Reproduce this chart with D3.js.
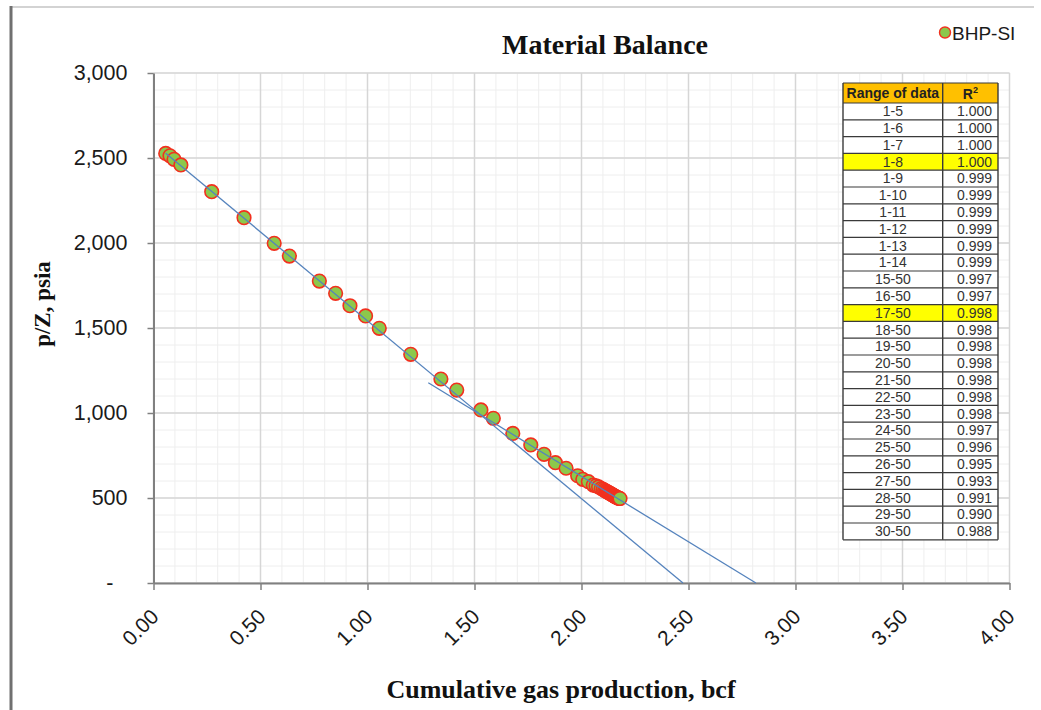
<!DOCTYPE html>
<html>
<head>
<meta charset="utf-8">
<script src="https://cdn.jsdelivr.net/npm/d3@7"></script>
<style>
  body { margin: 0; background: #fff; }
  svg { display: block; }
</style>
</head>
<body>
<svg id="chart" width="1041" height="710"></svg>
<script>
// Cumulative gas production (bcf) and p/Z (psia) for each survey point
const cumGas = [
  0.057, 0.077, 0.096, 0.128, 0.272, 0.423, 0.564, 0.635, 0.775, 0.851,
  0.918, 0.991, 1.055, 1.202, 1.343, 1.417, 1.530, 1.588, 1.679, 1.763,
  1.825, 1.878, 1.928, 1.982, 2.006, 2.032, 2.055, 2.068, 2.080, 2.092,
  2.101, 2.108, 2.114, 2.119, 2.124, 2.129, 2.133, 2.137, 2.141, 2.145,
  2.149, 2.152, 2.156, 2.159, 2.163, 2.166, 2.170, 2.173, 2.176, 2.180
];
const pOverZ = [
  2527, 2513, 2492, 2459, 2302, 2149, 1998, 1923, 1776, 1704,
  1631, 1571, 1498, 1345, 1200, 1135, 1018, 969, 880, 812,
  757, 708, 675, 631, 610, 596, 576, 572, 565, 556,
  551, 545, 541, 537, 533, 530, 527, 524, 521, 518,
  515, 513, 510, 508, 505, 503, 501, 499, 498, 497
];

// Axis ticks
const xTicks = [0, 0.5, 1, 1.5, 2, 2.5, 3, 3.5, 4];
const yTicks = [0, 500, 1000, 1500, 2000, 2500, 3000];

// Straight-line fits (points 1-8 and 17-50), drawn from the start x down to p/Z = 0
const fitFrom = [0.057, 1.284];
const fitSlope = [-1046, -769.4];
const fitIntercept = [2588, 2165.9];

// R-squared table
const rangeLabels = [
  "1-5", "1-6", "1-7", "1-8", "1-9", "1-10", "1-11", "1-12", "1-13", "1-14",
  "15-50", "16-50", "17-50", "18-50", "19-50", "20-50", "21-50", "22-50", "23-50",
  "24-50", "25-50", "26-50", "27-50", "28-50", "29-50", "30-50"
];
const rSquared = [
  1.000, 1.000, 1.000, 1.000, 0.999, 0.999, 0.999, 0.999, 0.999, 0.999,
  0.997, 0.997, 0.998, 0.998, 0.998, 0.998, 0.998, 0.998, 0.998,
  0.997, 0.996, 0.995, 0.993, 0.991, 0.990, 0.988
];
const highlightedRanges = ["1-8", "17-50"];

const svg = d3.select("#chart");
svg.append("rect").attr("width", 1041).attr("height", 710).attr("fill", "#fff");

// chart-area frame
svg.append("line").attr("x1", 10).attr("x2", 1034).attr("y1", 7).attr("y2", 7)
  .attr("stroke", "#d3d3d3").attr("stroke-width", 2);
svg.append("line").attr("x1", 11).attr("x2", 11).attr("y1", 6).attr("y2", 710)
  .attr("stroke", "#707070").attr("stroke-width", 3);

const x = d3.scaleLinear().domain([0, 4]).range([153.5, 1009.5]);
const y = d3.scaleLinear().domain([0, 3000]).range([583, 73]);

// gridlines: minor first, then major
const grid = svg.append("g");
const xMinor = d3.range(0, 40.5, 1).map(d => d / 10);
const yMinor = d3.range(0, 3001, 100);
grid.selectAll(".vmin").data(xMinor).join("line")
  .attr("x1", d => x(d)).attr("x2", d => x(d)).attr("y1", y(0)).attr("y2", y(3000))
  .attr("stroke", "#eeeeee").attr("stroke-width", 1);
grid.selectAll(".hmin").data(yMinor).join("line")
  .attr("x1", x(0)).attr("x2", x(4)).attr("y1", d => y(d)).attr("y2", d => y(d))
  .attr("stroke", "#eeeeee").attr("stroke-width", 1);
grid.selectAll(".vmaj").data(xTicks).join("line")
  .attr("x1", d => x(d)).attr("x2", d => x(d)).attr("y1", y(0)).attr("y2", y(3000))
  .attr("stroke", "#d6d6d6").attr("stroke-width", 1.5);
grid.selectAll(".hmaj").data(yTicks).join("line")
  .attr("x1", x(0)).attr("x2", x(4)).attr("y1", d => y(d)).attr("y2", d => y(d))
  .attr("stroke", "#d6d6d6").attr("stroke-width", 1.5);

// y axis
const yAxis = svg.append("g").attr("transform", `translate(${x(0)},0)`)
  .call(d3.axisLeft(y).tickValues(yTicks).tickSize(6).tickSizeOuter(0).tickPadding(20)
    .tickFormat(d => d === 0 ? "-" : d3.format(",")(d)));
yAxis.select(".domain").attr("stroke", "#808080").attr("stroke-width", 2);
yAxis.selectAll(".tick line").attr("stroke", "#808080").attr("stroke-width", 1.5);
yAxis.selectAll(".tick text")
  .attr("font-family", "Liberation Sans, Arial, sans-serif").attr("font-size", 21.5)
  .attr("fill", "#1a1a1a")
  .attr("dx", d => d === 0 ? -14 : 0);

// x axis
const xAxis = svg.append("g").attr("transform", `translate(0,${y(0)})`)
  .call(d3.axisBottom(x).tickValues(xTicks).tickSize(7).tickSizeOuter(0)
    .tickFormat(d3.format(".2f")));
xAxis.select(".domain").attr("stroke", "#808080").attr("stroke-width", 2);
xAxis.selectAll(".tick line").attr("stroke", "#808080").attr("stroke-width", 1.5);
xAxis.selectAll(".tick text")
  .attr("font-family", "Liberation Sans, Arial, sans-serif").attr("font-size", 21)
  .attr("fill", "#1a1a1a")
  .attr("x", 0).attr("y", 0).attr("dy", 0)
  .attr("text-anchor", "end")
  .attr("transform", "translate(6,35) rotate(-45)");

// data markers
const pts = cumGas.map((g, i) => ({ g, p: pOverZ[i] }));
svg.append("g").selectAll("circle").data(pts).join("circle")
  .attr("cx", d => x(d.g)).attr("cy", d => y(d.p)).attr("r", 6.8)
  .attr("fill", "#8cc84b").attr("stroke", "#f2301e").attr("stroke-width", 1.6);

// fitted lines
const fits = fitFrom.map((f, i) => ({ from: f, slope: fitSlope[i], b: fitIntercept[i] }));
svg.append("g").selectAll("line").data(fits).join("line")
  .attr("x1", d => x(d.from)).attr("y1", d => y(d.b + d.slope * d.from))
  .attr("x2", d => x(-d.b / d.slope)).attr("y2", y(0))
  .attr("stroke", "#5583bd").attr("stroke-width", 1.3);

// titles
svg.append("text").attr("x", 605).attr("y", 54).attr("text-anchor", "middle")
  .attr("font-family", "Liberation Serif, Times New Roman, serif").attr("font-weight", "bold")
  .attr("font-size", 28).attr("fill", "#111").text("Material Balance");
svg.append("text").attr("x", 561).attr("y", 698).attr("text-anchor", "middle")
  .attr("font-family", "Liberation Serif, Times New Roman, serif").attr("font-weight", "bold")
  .attr("font-size", 26).attr("fill", "#111").text("Cumulative gas production, bcf");
svg.append("text").attr("transform", "translate(50,304) rotate(-90)").attr("text-anchor", "middle")
  .attr("font-family", "Liberation Serif, Times New Roman, serif").attr("font-weight", "bold")
  .attr("font-size", 23).attr("fill", "#111").text("p/Z, psia");

// legend
const legend = svg.append("g");
legend.append("circle").attr("cx", 945).attr("cy", 32.5).attr("r", 5.5)
  .attr("fill", "#8cc84b").attr("stroke", "#f2301e").attr("stroke-width", 1.4);
legend.append("text").attr("x", 952).attr("y", 39.5)
  .attr("font-family", "Liberation Sans, Arial, sans-serif").attr("font-size", 19)
  .attr("fill", "#1a1a1a").text("BHP-SI");

// R-squared table
const tLeft = 843, tMid = 942.7, tRight = 998, tTop = 83, headH = 20, rowH = 16.8;
const table = svg.append("g");
const rows = rangeLabels.map((r, i) => ({ r, v: rSquared[i], i }));
table.append("rect").attr("x", tLeft).attr("y", tTop).attr("width", tRight - tLeft).attr("height", headH)
  .attr("fill", "#ffc000");
table.selectAll(".row").data(rows).join("rect")
  .attr("x", tLeft).attr("y", d => tTop + headH + d.i * rowH)
  .attr("width", tRight - tLeft).attr("height", rowH)
  .attr("fill", d => highlightedRanges.includes(d.r) ? "#ffff00" : "#fff");
// horizontal rules
const tBottom = tTop + headH + rows.length * rowH;
table.selectAll(".hr").data(d3.range(rows.length + 2)).join("line")
  .attr("x1", tLeft).attr("x2", tRight)
  .attr("y1", d => d === 0 ? tTop : tTop + headH + (d - 1) * rowH)
  .attr("y2", d => d === 0 ? tTop : tTop + headH + (d - 1) * rowH)
  .attr("stroke", "#3a3a3a").attr("stroke-width", 1.2);
table.selectAll(".vr").data([tLeft, tMid, tRight]).join("line")
  .attr("x1", d => d).attr("x2", d => d).attr("y1", tTop).attr("y2", tBottom)
  .attr("stroke", "#3a3a3a").attr("stroke-width", 1.4);
// header text
table.append("text").attr("x", (tLeft + tMid) / 2).attr("y", tTop + 15)
  .attr("text-anchor", "middle").attr("font-family", "Liberation Sans, Arial, sans-serif")
  .attr("font-weight", "bold").attr("font-size", 14).attr("fill", "#222").text("Range of data");
const rHead = table.append("text").attr("x", (tMid + tRight) / 2).attr("y", tTop + 15.5)
  .attr("text-anchor", "middle").attr("font-family", "Liberation Sans, Arial, sans-serif")
  .attr("font-weight", "bold").attr("font-size", 14).attr("fill", "#222");
rHead.append("tspan").text("R");
rHead.append("tspan").attr("font-size", 9).attr("dy", -6).text("2");
// body text
table.selectAll(".rl").data(rows).join("text")
  .attr("x", (tLeft + tMid) / 2).attr("y", d => tTop + headH + d.i * rowH + 13.2)
  .attr("text-anchor", "middle").attr("font-family", "Liberation Sans, Arial, sans-serif")
  .attr("font-size", 14).attr("fill", "#333").text(d => d.r);
table.selectAll(".rv").data(rows).join("text")
  .attr("x", tRight - 6).attr("y", d => tTop + headH + d.i * rowH + 13.2)
  .attr("text-anchor", "end").attr("font-family", "Liberation Sans, Arial, sans-serif")
  .attr("font-size", 14).attr("fill", "#333").text(d => d3.format(".3f")(d.v));
</script>
</body>
</html>
